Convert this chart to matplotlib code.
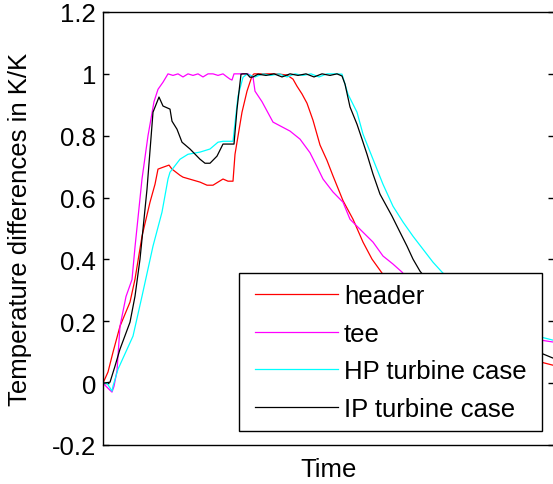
import matplotlib
matplotlib.use("Agg")
import matplotlib.pyplot as plt
from matplotlib.patches import Rectangle

plt.rcParams['font.family'] = ['Liberation Sans', 'DejaVu Sans']

# Time (arbitrary units) and normalized temperature differences
t_header = [0, 5, 10, 17, 27, 32, 39, 47, 52, 55, 60, 66, 69, 77, 80, 97, 104, 110, 120, 125, 130,
            132, 134, 139, 144, 149, 151, 157, 167, 177, 184, 190, 194, 199, 204, 210, 217, 224,
            230, 240, 250, 260, 269, 279, 292, 320, 350, 380, 410, 438, 450]
y_header = [0.0, 0.036, 0.10, 0.184, 0.262, 0.336, 0.475, 0.585, 0.643, 0.692, 0.698, 0.705, 0.692,
            0.672, 0.666, 0.65, 0.64, 0.64, 0.66, 0.653, 0.653, 0.74, 0.779, 0.876, 0.944, 0.993,
            1.0, 1.0, 1.0, 0.999, 0.996, 0.983, 0.96, 0.935, 0.905, 0.85, 0.77, 0.72, 0.67, 0.59,
            0.53, 0.456, 0.401, 0.356, 0.27, 0.18, 0.12, 0.09, 0.075, 0.068, 0.058]

t_tee = [0, 3, 7, 9, 11, 14, 17, 23, 29, 32, 39, 45, 51, 55, 60, 65, 70, 75, 80, 85, 90, 95, 100,
         105, 110, 115, 120, 124, 127, 129, 131, 140, 145, 150, 152, 159, 170, 187, 197, 207, 214,
         220, 230, 240, 247, 260, 270, 280, 290, 299, 320, 350, 380, 410, 438, 450]
y_tee = [0.0, -0.01, -0.023, -0.029, -0.01, 0.04, 0.184, 0.28, 0.335, 0.44, 0.66, 0.80, 0.91, 0.95,
         0.973, 1.0, 0.995, 1.0, 0.99, 1.0, 0.995, 1.0, 0.99, 1.0, 1.0, 0.995, 1.0, 0.99, 0.983,
         0.98, 1.0, 1.0, 1.0, 0.99, 0.944, 0.91, 0.844, 0.815, 0.789, 0.745, 0.70, 0.66, 0.618,
         0.585, 0.53, 0.488, 0.456, 0.411, 0.385, 0.359, 0.28, 0.21, 0.17, 0.15, 0.139, 0.133]

t_hp = [0, 4, 9, 10, 15, 30, 39, 50, 59, 65, 67, 77, 85, 97, 107, 115, 120, 130, 135, 140, 144,
        152, 160, 168, 176, 184, 192, 200, 208, 216, 224, 232, 239, 245, 254, 260, 270, 280, 290,
        300, 310, 320, 330, 339, 345, 370, 400, 438, 450]
y_hp = [0.0, 0.0, -0.026, -0.01, 0.045, 0.152, 0.281, 0.443, 0.553, 0.66, 0.682, 0.724, 0.74,
        0.747, 0.757, 0.779, 0.782, 0.782, 0.928, 0.989, 0.999, 0.99, 1.0, 0.995, 1.0, 0.99, 1.0,
        0.995, 1.0, 0.99, 1.0, 1.0, 0.999, 0.934, 0.876, 0.805, 0.724, 0.643, 0.572, 0.521, 0.475,
        0.433, 0.391, 0.359, 0.34, 0.26, 0.19, 0.149, 0.139]

t_ip = [0, 7, 12, 17, 27, 32, 37, 40, 44, 50, 56, 60, 67, 69, 74, 79, 87, 97, 102, 107, 114, 120,
        129, 131, 134, 138, 140, 144, 147, 150, 155, 163, 171, 179, 187, 195, 203, 211, 219, 227,
        234, 239, 242, 247, 254, 259, 264, 270, 277, 289, 297, 304, 310, 317, 325, 350, 380, 410,
        438, 450]
y_ip = [0.0, 0.003, 0.055, 0.11, 0.197, 0.281, 0.401, 0.498, 0.627, 0.876, 0.925, 0.896, 0.886,
        0.847, 0.821, 0.779, 0.757, 0.724, 0.711, 0.711, 0.734, 0.773, 0.773, 0.773, 0.886, 0.999,
        1.0, 1.0, 0.989, 0.99, 0.999, 0.995, 1.0, 0.99, 1.0, 0.995, 1.0, 0.99, 1.0, 0.995, 1.0,
        0.993, 0.967, 0.893, 0.837, 0.789, 0.74, 0.676, 0.611, 0.54, 0.488, 0.443, 0.401, 0.362,
        0.33, 0.24, 0.17, 0.12, 0.097, 0.081]

labels = ['header', 'tee', 'HP turbine case', 'IP turbine case']
colors = ['#ff0000', '#ff00ff', '#00ffff', '#000000']
yticks = [-0.2, 0, 0.2, 0.4, 0.6, 0.8, 1, 1.2]
ytick_labels = ['-0.2', '0', '0.2', '0.4', '0.6', '0.8', '1', '1.2']

FS = 18.5
W, H = 553, 485
fig = plt.figure(figsize=(W / 100, H / 100), dpi=100)
ax_l, ax_b, ax_w, ax_h = 103, 446, 450.5, 433
ax = fig.add_axes([ax_l / W, 1 - ax_b / H, ax_w / W, ax_h / H])


def axc(px, py):
    return ((px - ax_l) / ax_w, (ax_b - py) / ax_h)


series = [(t_header, y_header), (t_tee, y_tee), (t_hp, y_hp), (t_ip, y_ip)]
for (t, y), c, lab in zip(series, colors, labels):
    ax.plot(t, y, color=c, lw=0.9, label=lab)

ax.set_xlim(0, 450.5)
ax.set_ylim(-0.2, 1.2)
ax.set_xticks([])
ax.set_yticks(yticks)
ax.set_yticklabels(ytick_labels)
ax.tick_params(axis='y', direction='in', length=4, width=1, labelsize=FS, pad=5,
               left=True, right=True)
for s in ax.spines.values():
    s.set_linewidth(1.0)
    s.set_color('#000000')

ax.set_xlabel('Time', fontsize=FS, labelpad=9)
ax.set_ylabel('Temperature differences in K/K', fontsize=FS)
ax.yaxis.set_label_coords(-0.158, 0.5)

# legend box
x0, y0 = axc(239, 432)
x1, y1 = axc(542, 274)
box = Rectangle((x0, y0), x1 - x0, y1 - y0, transform=ax.transAxes, facecolor='white',
                edgecolor='black', lw=1.0, zorder=4.5, clip_on=False)
ax.add_patch(box)

leg = ax.legend(loc='upper left', bbox_to_anchor=axc(255, 285), borderaxespad=0,
                fontsize=FS, frameon=False, handlelength=83 / 25.7, handletextpad=0.23,
                borderpad=0, labelspacing=0.53)
leg.set_zorder(5)
for line in leg.get_lines():
    line.set_linewidth(0.9)

fig.savefig('out.png', dpi=100)
